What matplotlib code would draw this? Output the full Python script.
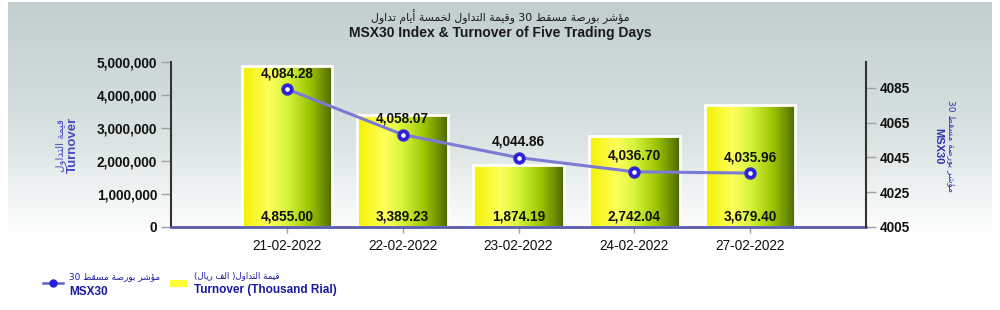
import re
import numpy as np
import matplotlib
matplotlib.use("Agg")
import matplotlib.pyplot as plt
from matplotlib.colors import LinearSegmentedColormap
from matplotlib.lines import Line2D
from matplotlib.patches import Rectangle

# data
dates = ["21-02-2022", "22-02-2022", "23-02-2022", "24-02-2022", "27-02-2022"]
turnover = [4855.00, 3389.23, 1874.19, 2742.04, 3679.40]      # thousand rial
msx30 = [4084.28, 4058.07, 4044.86, 4036.70, 4035.96]
left_ticks = [0, 1000000, 2000000, 3000000, 4000000, 5000000]
right_ticks = [4005, 4025, 4045, 4065, 4085]

title_ar = "مؤشر بورصة مسقط 30 وقيمة التداول لخمسة أيام تداول"
title_en = "MSX30 Index & Turnover of Five Trading Days"
turn_ar = "قيمة التداول"
turn_en = "Turnover"
idx_ar = "مؤشر بورصة مسقط 30"
idx_en = "MSX30"
leg_turn_ar = "قيمة التداول( الف ريال)"
leg_turn_en = "Turnover (Thousand Rial)"

# matplotlib has no arabic shaping, so pick presentation forms by hand
AR_FORMS = {
    'ا': (0xFE8D, 0xFE8E), 'أ': (0xFE83, 0xFE84), 'ؤ': (0xFE85, 0xFE86),
    'ب': (0xFE8F, 0xFE90, 0xFE91, 0xFE92), 'ة': (0xFE93, 0xFE94),
    'ت': (0xFE95, 0xFE96, 0xFE97, 0xFE98), 'خ': (0xFEA5, 0xFEA6, 0xFEA7, 0xFEA8),
    'د': (0xFEA9, 0xFEAA), 'ر': (0xFEAD, 0xFEAE),
    'س': (0xFEB1, 0xFEB2, 0xFEB3, 0xFEB4), 'ش': (0xFEB5, 0xFEB6, 0xFEB7, 0xFEB8),
    'ص': (0xFEB9, 0xFEBA, 0xFEBB, 0xFEBC), 'ط': (0xFEC1, 0xFEC2, 0xFEC3, 0xFEC4),
    'ف': (0xFED1, 0xFED2, 0xFED3, 0xFED4), 'ق': (0xFED5, 0xFED6, 0xFED7, 0xFED8),
    'ل': (0xFEDD, 0xFEDE, 0xFEDF, 0xFEE0), 'م': (0xFEE1, 0xFEE2, 0xFEE3, 0xFEE4),
    'و': (0xFEED, 0xFEEE), 'ي': (0xFEF1, 0xFEF2, 0xFEF3, 0xFEF4),
}


def ar(s):
    out = []
    for i, c in enumerate(s):
        f = AR_FORMS.get(c)
        if f is None:
            out.append(c)
            continue
        prev = s[i - 1] if i > 0 else ''
        nxt = s[i + 1] if i + 1 < len(s) else ''
        pj = prev in AR_FORMS and len(AR_FORMS[prev]) == 4
        nj = nxt in AR_FORMS and len(f) == 4
        k = 3 if (pj and nj) else 1 if pj else 2 if nj else 0
        out.append(chr(f[k]))
    vis = ''.join(out)[::-1]
    vis = vis.translate(str.maketrans('()', ')('))
    vis = re.sub(r'[0-9]+', lambda m: m.group(0)[::-1], vis)
    return vis


LAT = ['Liberation Sans', 'DejaVu Sans']
ARF = ['DejaVu Sans']

fig = plt.figure(figsize=(10, 3.1), dpi=100)

# background panel
bg = fig.add_axes([0.008, 0.0, 0.984, 0.994], zorder=-5)
grad_cmap = LinearSegmentedColormap.from_list(
    "bg", [(0, '#c2cece'), (0.45, '#dbe3e3'), (0.65, '#f3f6f6'), (0.76, '#ffffff'), (1, '#ffffff')])
bg.imshow(np.linspace(0, 1, 256).reshape(-1, 1), cmap=grad_cmap, aspect='auto',
          extent=[0, 1, 0, 1], origin='upper')
bg.set_axis_off()

ax = fig.add_axes([0.171, 0.268, 0.695, 0.533])
ax.set_facecolor('none')
x = np.arange(1, len(dates) + 1)
bw = 0.78
bar_cmap = LinearSegmentedColormap.from_list(
    "bar", [(0, '#f2f200'), (0.3, '#ffff5c'), (0.5, '#d6f53c'), (0.75, '#9cc400'), (1, '#4e6800')])
grad = np.linspace(0, 1, 128).reshape(1, -1)
for xi, v in zip(x, turnover):
    h = v * 1000
    ax.imshow(grad, cmap=bar_cmap, aspect='auto', extent=[xi - bw / 2, xi + bw / 2, 0, h], zorder=1)
    ax.add_patch(Rectangle((xi - bw / 2, 0), bw, h, fill=False, edgecolor='white', lw=2, zorder=2))
    ax.text(xi, 90000, f"{v:,.2f}", ha='center', va='bottom', fontsize=9.8,
            fontweight='bold', family=LAT, color='#111111', zorder=5)

ax.set_xlim(0, 6)
ax.set_ylim(0, 5000000)
ax.set_xticks(x)
ax.set_xticklabels(dates, fontsize=9.8, family=LAT, color='#111111')
ax.set_yticks(left_ticks)
ax.set_yticklabels([f"{t:,}" for t in left_ticks], fontsize=9.8, fontweight='bold',
                   family=LAT, color='#111111')
ax.tick_params(axis='y', length=7, width=1, color='#a0a0a0', pad=3)
ax.tick_params(axis='x', length=4, width=1, color='#a0a0a0', pad=5)
ax.spines['top'].set_visible(False)
ax.spines['right'].set_visible(False)
ax.spines['left'].set_color('#333333')
ax.spines['left'].set_linewidth(1.5)
ax.spines['bottom'].set_color('#5a5ab0')
ax.spines['bottom'].set_linewidth(2)

ax2 = ax.twinx()
ax2.plot(x, msx30, color='#7b7bd6', lw=2.2, marker='o', ms=8, mfc='#2a1ee0',
         mec='#3a2ec8', mew=1, zorder=5)
ax2.plot(x, msx30, ls='none', marker='o', ms=2.3, mfc='white', mec='white', zorder=6)
for xi, v in zip(x, msx30):
    ax2.annotate(f"{v:,.2f}", (xi, v), xytext=(0, 6.5), textcoords='offset points',
                 ha='center', va='bottom', fontsize=9.8, fontweight='bold',
                 family=LAT, color='#111111', zorder=7)
ax2.set_ylim(4005, 4100)
ax2.set_yticks(right_ticks)
ax2.set_yticklabels([str(t) for t in right_ticks], fontsize=9.8, fontweight='bold',
                    family=LAT, color='#111111')
ax2.tick_params(axis='y', length=7, width=1, color='#a0a0a0', pad=3)
ax2.spines['top'].set_visible(False)
ax2.spines['left'].set_visible(False)
ax2.spines['bottom'].set_visible(False)
ax2.spines['right'].set_color('#333333')
ax2.spines['right'].set_linewidth(1.5)

# titles
fig.text(0.5, 1 - 17 / 310, ar(title_ar), ha='center', va='center', fontsize=7.8,
         family=ARF, color='#1a1a1a')
fig.text(0.5, 1 - 33 / 310, title_en, ha='center', va='center', fontsize=10,
         fontweight='bold', family=LAT, color='#1a1a1a')

# axis titles
fig.text(0.061, 1 - 145 / 310, ar(turn_ar), rotation=90, ha='center', va='center',
         fontsize=7.5, family=ARF, color='#4a4ac0')
fig.text(0.073, 1 - 145 / 310, turn_en, rotation=90, ha='center', va='center',
         fontsize=9.5, fontweight='bold', family=LAT, color='#4a4ac0')
fig.text(0.951, 1 - 146 / 310, ar(idx_ar), rotation=-90, ha='center', va='center',
         fontsize=6.5, family=ARF, color='#3030b0')
fig.text(0.938, 1 - 146 / 310, idx_en, rotation=-90, ha='center', va='center',
         fontsize=8, fontweight='bold', family=LAT, color='#3030b0')

# legend
fig.add_artist(Line2D([0.043, 0.063], [1 - 283 / 310] * 2, transform=fig.transFigure,
                      color='#6060cc', lw=1.8))
fig.add_artist(Line2D([0.053], [1 - 283 / 310], transform=fig.transFigure,
                      marker='o', ms=5, mfc='#2a1ee0', mec='#2a1ee0'))
fig.text(0.069, 1 - 277 / 310, ar(idx_ar), ha='left', va='center', fontsize=6.4,
         family=ARF, color='#1a1aa0')
fig.text(0.069, 1 - 292 / 310, idx_en, ha='left', va='center', fontsize=8.5,
         fontweight='bold', family=LAT, color='#1a1aa0')
fig.add_artist(Rectangle((0.170, 1 - 287 / 310), 0.017, 7 / 310, transform=fig.transFigure,
                         facecolor='#ffff33', edgecolor='none'))
fig.text(0.194, 1 - 276 / 310, ar(leg_turn_ar), ha='left', va='center', fontsize=6.2,
         family=ARF, color='#1a1aa0')
fig.text(0.194, 1 - 290 / 310, leg_turn_en, ha='left', va='center', fontsize=8.5,
         fontweight='bold', family=LAT, color='#1a1aa0')

fig.savefig("out.png", dpi=100)
